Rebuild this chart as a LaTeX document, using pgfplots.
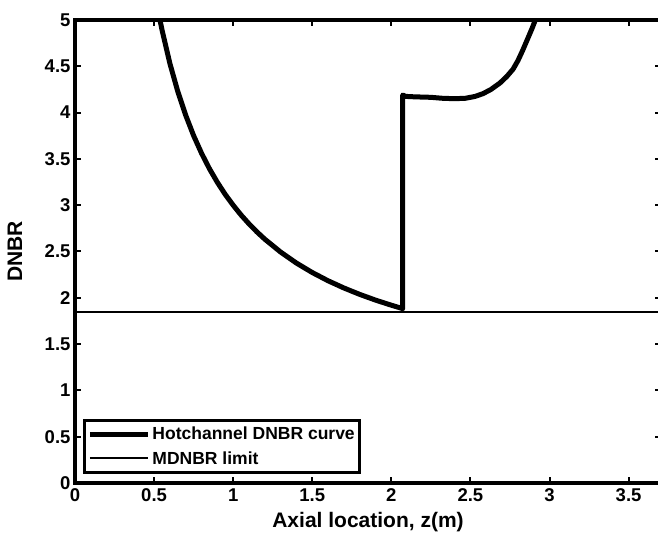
\documentclass[border=0pt]{standalone}
\usepackage{pgfplots}
\pgfplotsset{compat=1.18}
\usepackage{fontspec}
\setmainfont{Liberation Sans}
\begin{document}
\begin{tikzpicture}
\begin{axis}[
  scale only axis,
  width=586pt, height=463pt,
  at={(0,0)}, anchor=south west,
  xmin=0, xmax=3.705, ymin=0, ymax=5,
  xtick={0,0.5,...,3.5},
  ytick={0,0.5,...,5},
  xticklabels={0,0.5,1,1.5,2,2.5,3,3.5},
  yticklabels={0,0.5,1,1.5,2,2.5,3,3.5,4,4.5,5},
  tick align=inside,
  major tick length=6pt,
  every tick/.style={black, line width=2pt},
  axis line style={line width=3.5pt},
  tick label style={font=\fontsize{18.5}{20}\selectfont\bfseries},
  xticklabel style={yshift=-2pt},
  yticklabel style={xshift=-1pt},
  xlabel={Axial location, z(m)},
  ylabel={DNBR},
  label style={font=\fontsize{21}{24}\selectfont\bfseries},
  xlabel style={at={(axis description cs:0.5,-0.0842)}, anchor=center},
  ylabel style={at={(axis description cs:-0.1024,0.5)}, anchor=center},
  clip=true,
  legend image code/.code={\draw[#1] (0pt,0pt) -- (58pt,0pt);},
  legend cell align=left,
  legend style={at={(rel axis cs:0,0)}, anchor=south west, xshift=8pt, yshift=9pt,
    draw=black, line width=3pt, inner xsep=3pt, inner ysep=5pt,
    font=\fontsize{17.5}{19}\selectfont\bfseries,
    row sep=6pt,
    nodes={inner sep=2pt, line width=0.4pt}},
]
\addplot[black, line width=5pt, line join=round] coordinates {
(0.53,5.06) (0.55,4.894) (0.60,4.53) (0.65,4.227) (0.70,3.971) (0.75,3.751)
(0.80,3.561) (0.85,3.394) (0.90,3.247) (0.95,3.116) (1.00,3.00) (1.05,2.894) (1.10,2.799)
(1.15,2.712) (1.20,2.633) (1.30,2.494) (1.40,2.375) (1.50,2.273) (1.60,2.184)
(1.70,2.106) (1.80,2.037) (1.90,1.975) (2.00,1.920) (2.072,1.883)
(2.072,4.19) (2.09,4.175) (2.15,4.17) (2.25,4.165) (2.32,4.155) (2.40,4.15)
(2.47,4.155) (2.53,4.175) (2.58,4.205) (2.63,4.25) (2.687,4.32) (2.73,4.39)
(2.77,4.47) (2.80,4.56) (2.83,4.67) (2.86,4.79) (2.89,4.91) (2.915,5.02)
};
\addlegendentry{Hotchannel DNBR curve}
\addplot[black, line width=2pt] coordinates {(0,1.846) (3.705,1.846)};
\addlegendentry{MDNBR limit}
\end{axis}
\pgfresetboundingbox
\path[use as bounding box] (-75pt,-55pt) rectangle (583pt,483pt);
\end{tikzpicture}
\end{document}
